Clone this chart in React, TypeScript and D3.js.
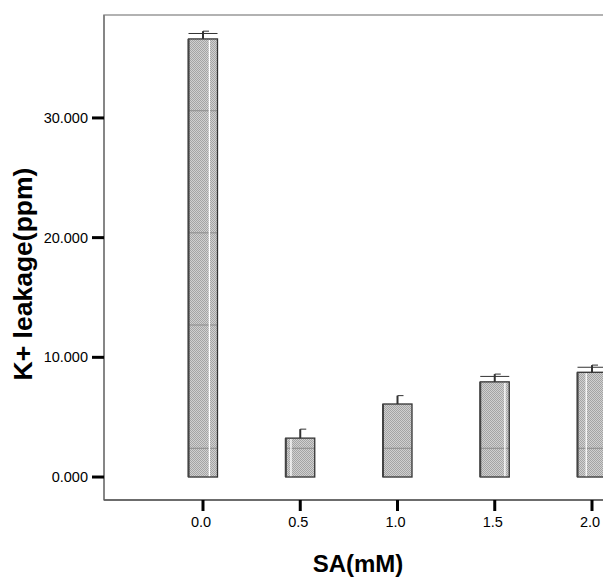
import React from "react";
import * as d3 from "d3";

const categories = [0.0, 0.5, 1.0, 1.5, 2.0];
const means = [36.6, 3.25, 6.1, 7.95, 8.75];
const errors = [0.65, 0.75, 0.7, 0.65, 0.6];
const wideCap = [true, false, false, true, true];
const whiteLinePos = [0.72, 0.18, -1, 0.85, 0.3];
const yTicks = [0, 10, 20, 30];
const xTicks = [0.0, 0.5, 1.0, 1.5, 2.0];
const artifactLines = [2.4, 12.7, 20.4, 30.6];

const W = 603;
const H = 577;

export default function App() {
  const y = d3.scaleLinear().domain([-1.92, 38.6]).range([500, 15]);
  const x = d3.scaleLinear().domain([-0.509, 2.5]).range([104, 104 + 3.009 * 194.5]);
  const barW = 29;
  const font = "Arial, 'Liberation Sans', Helvetica, sans-serif";
  return (
    <svg width={W} height={H} style={{ position: "absolute", left: 0, top: 0 }} fontFamily={font}>
      <defs>
        <pattern id="chk" width={2} height={2} patternUnits="userSpaceOnUse">
          <rect width={2} height={2} fill="#d0d0d0" />
          <rect width={1} height={1} fill="#a4a4a4" />
          <rect x={1} y={1} width={1} height={1} fill="#a4a4a4" />
        </pattern>
        <clipPath id="plotclip">
          <rect x={104} y={15} width={600} height={485} />
        </clipPath>
      </defs>
      <rect x={0} y={0} width={W} height={H} fill="#fff" />
      {/* frame */}
      <rect x={104} y={15} width={700} height={485} fill="none" stroke="#999" strokeWidth={1.5} />
      <line x1={104} x2={104} y1={15} y2={500} stroke="#777" strokeWidth={1.5} />
      <line x1={104} x2={W} y1={500} y2={500} stroke="#555" strokeWidth={1.5} />
      <g clipPath="url(#plotclip)">
        {categories.map((c, i) => {
          const cx = x(c);
          const x0 = cx - barW / 2;
          const top = y(means[i]);
          const base = y(0);
          const eTop = y(means[i] + errors[i]);
          const wideY = y(means[i] + errors[i] * 0.7);
          return (
            <g key={i}>
              <rect x={x0} y={top} width={barW} height={base - top} fill="url(#chk)" />
              {artifactLines
                .filter((v) => v < means[i])
                .map((v, j) => (
                  <line key={j} x1={x0} x2={x0 + barW} y1={y(v)} y2={y(v)} stroke="#8c8c8c" strokeWidth={1} />
                ))}
              {whiteLinePos[i] >= 0 && (
                <line
                  x1={x0 + barW * whiteLinePos[i]}
                  x2={x0 + barW * whiteLinePos[i]}
                  y1={top + 1}
                  y2={base}
                  stroke="#fff"
                  strokeWidth={1.3}
                />
              )}
              <rect x={x0} y={top} width={barW} height={base - top} fill="none" stroke="#333" strokeWidth={1.3} />
              <line x1={x0} x2={x0} y1={top} y2={base} stroke="#444" strokeWidth={2} />
              {wideCap[i] && (
                <line x1={x0} x2={x0 + barW} y1={wideY} y2={wideY} stroke="#333" strokeWidth={1} />
              )}
              <line x1={cx} x2={cx} y1={eTop} y2={top} stroke="#333" strokeWidth={2} />
              <line x1={cx} x2={cx + 6} y1={eTop} y2={eTop} stroke="#333" strokeWidth={1} />
            </g>
          );
        })}
      </g>
      {/* y ticks */}
      {yTicks.map((t) => (
        <g key={t}>
          <line x1={92} x2={104} y1={y(t)} y2={y(t)} stroke="#000" strokeWidth={3} />
          <text x={88} y={y(t)} dy="0.35em" textAnchor="end" fontSize={14.5} fill="#000">
            {d3.format(".3f")(t)}
          </text>
        </g>
      ))}
      {/* x ticks */}
      {xTicks.map((t) => (
        <g key={t}>
          <line x1={x(t)} x2={x(t)} y1={500} y2={511} stroke="#000" strokeWidth={3} />
          <text x={x(t) - 2} y={527} textAnchor="middle" fontSize={14.5} fill="#000">
            {d3.format(".1f")(t)}
          </text>
        </g>
      ))}
      <text x={358} y={572} textAnchor="middle" fontSize={24} fontWeight="bold" fill="#000">
        SA(mM)
      </text>
      <text
        transform={`translate(32,274) rotate(-90)`}
        textAnchor="middle"
        fontSize={26.5}
        fontWeight="bold"
        fill="#000"
      >
        K+ leakage(ppm)
      </text>
    </svg>
  );
}
